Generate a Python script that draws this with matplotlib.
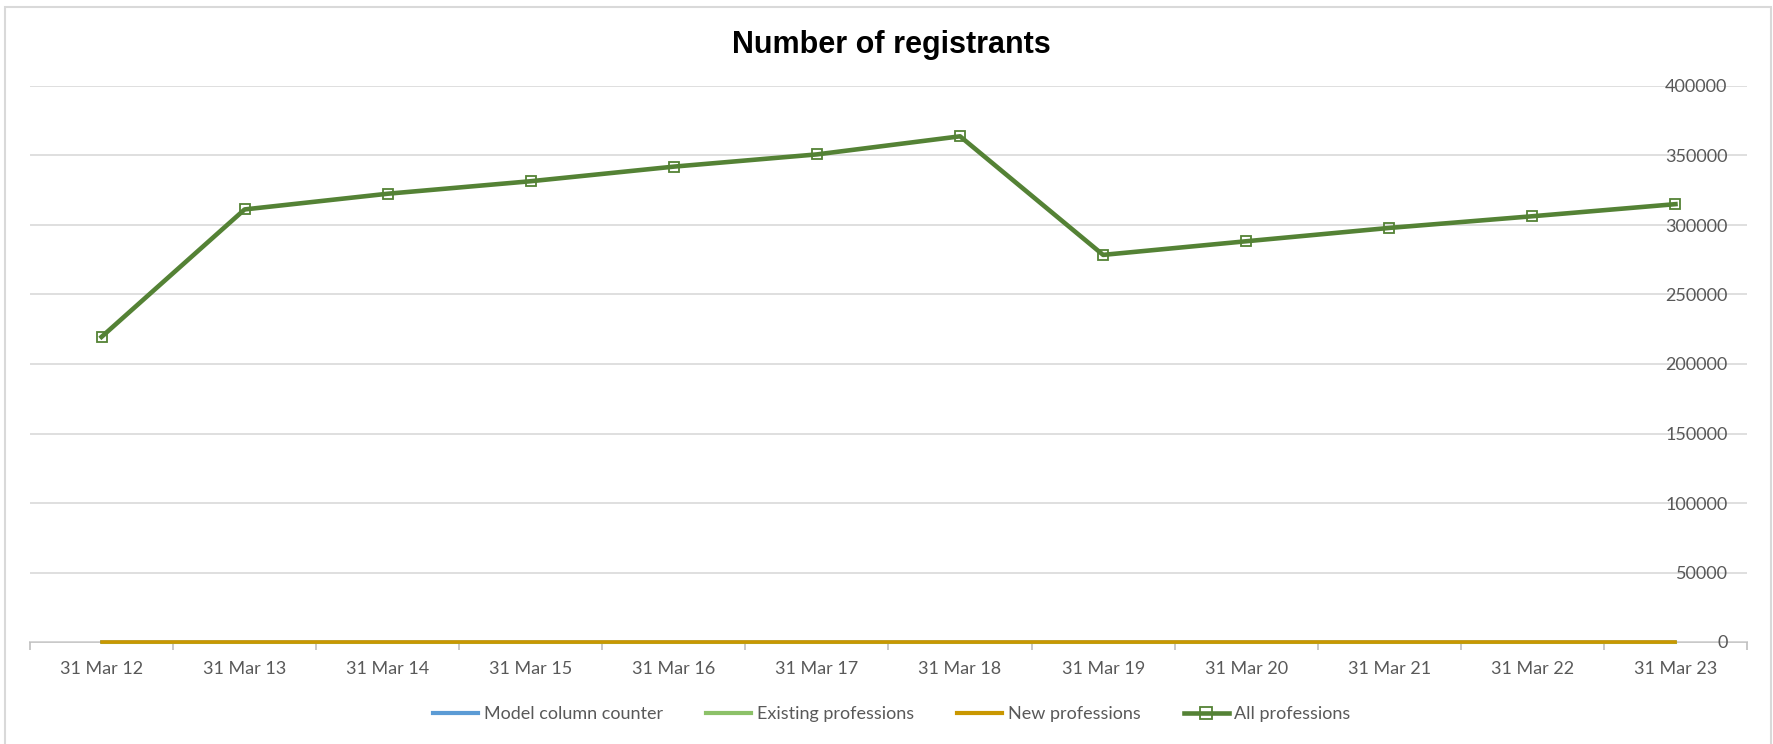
import matplotlib
matplotlib.use("Agg")
import matplotlib.pyplot as plt
import numpy as np
from matplotlib.lines import Line2D

# categories (financial year end dates)
dates = ["31 Mar 12", "31 Mar 13", "31 Mar 14", "31 Mar 15", "31 Mar 16", "31 Mar 17",
         "31 Mar 18", "31 Mar 19", "31 Mar 20", "31 Mar 21", "31 Mar 22", "31 Mar 23"]

# series values
model_counter = [1, 2, 3, 4, 5, 6, 7, 8, 9, 10, 11, 12]
existing_prof = [0, 0, 0, 0, 0, 0, 0, 0, 0, 0, 0, 0]
new_prof = [0, 0, 0, 0, 0, 0, 0, 0, 0, 0, 0, 0]
all_prof = [219500, 311200, 322500, 331500, 342000, 350800,
            363800, 278500, 288300, 297900, 306300, 315000]

yticks = [0, 50000, 100000, 150000, 200000, 250000, 300000, 350000, 400000]

plt.rcParams['font.family'] = ['Lato', 'DejaVu Sans']
txt_col = "#595959"
grid_col = "#d9d9d9"

fig = plt.figure(figsize=(17.73, 7.44), dpi=100)
ax = fig.add_axes([30 / 1773, 1 - 642 / 744, (1747 - 30) / 1773, (642 - 86) / 744])

x = np.arange(len(dates))
ax.plot(x, model_counter, color="#5b9bd5", lw=2.2, label="Model column counter", zorder=3, clip_on=False)
ax.plot(x, existing_prof, color="#8cc168", lw=2.2, label="Existing professions", zorder=3, clip_on=False)
ax.plot(x, new_prof, color="#c99700", lw=2.6, label="New professions", zorder=4, clip_on=False)
ax.plot(x, all_prof, color="#548235", lw=3.3, marker="s", ms=7.5, mfc="none",
        mec="#548235", mew=1.3, label="All professions", zorder=5)

ax.set_xlim(-0.5, len(dates) - 0.5)
ax.set_ylim(0, 400000)

# y axis on the right, labels sitting inside the plot area
ax.yaxis.tick_right()
ax.set_yticks(yticks)
ax.set_yticklabels([str(v) for v in yticks])
ax.tick_params(axis="y", length=0, pad=-14, labelsize=13, labelcolor=txt_col)
for lbl in ax.get_yticklabels():
    lbl.set_ha("right")
ax.grid(axis="y", color=grid_col, lw=1.2, zorder=0)

# category axis: ticks between categories, labels centred
ax.set_xticks(np.arange(-0.5, len(dates), 1))
ax.set_xticklabels([])
ax.tick_params(axis="x", which="major", length=6, color="#bfbfbf", width=1.2)
ax.set_xticks(x, minor=True)
ax.set_xticklabels(dates, minor=True)
ax.tick_params(axis="x", which="minor", length=0, pad=14, labelsize=13, labelcolor=txt_col)

for s in ["top", "left", "right"]:
    ax.spines[s].set_visible(False)
ax.spines["bottom"].set_color("#bfbfbf")
ax.spines["bottom"].set_linewidth(1.2)
ax.spines["bottom"].set_zorder(1)

fig.text(0.503, 1 - 53 / 744, "Number of registrants", ha="center", va="baseline",
         fontsize=22, fontweight="bold", family="Liberation Sans", color="black")

handles = [
    Line2D([], [], color="#5b9bd5", lw=3),
    Line2D([], [], color="#8cc168", lw=3),
    Line2D([], [], color="#c99700", lw=3),
    Line2D([], [], color="#548235", lw=3.3, marker="s", ms=9, mfc="none", mec="#548235", mew=1.3),
]
labels = ["Model column counter", "Existing professions", "New professions", "All professions"]
leg = fig.legend(handles, labels, loc="center", bbox_to_anchor=(0.503, 1 - 714 / 744), ncol=4,
                 frameon=False, fontsize=13, handlelength=2.5, handletextpad=0.3,
                 columnspacing=2.4, labelcolor=txt_col)

# chart area border
fig.add_artist(plt.Rectangle((5 / 1773, -0.05), (1771 - 5) / 1773, 1.05 - 7 / 744,
                             transform=fig.transFigure, fill=False, ec=grid_col, lw=1.5))

fig.savefig("out.png", dpi=100, facecolor="white")
